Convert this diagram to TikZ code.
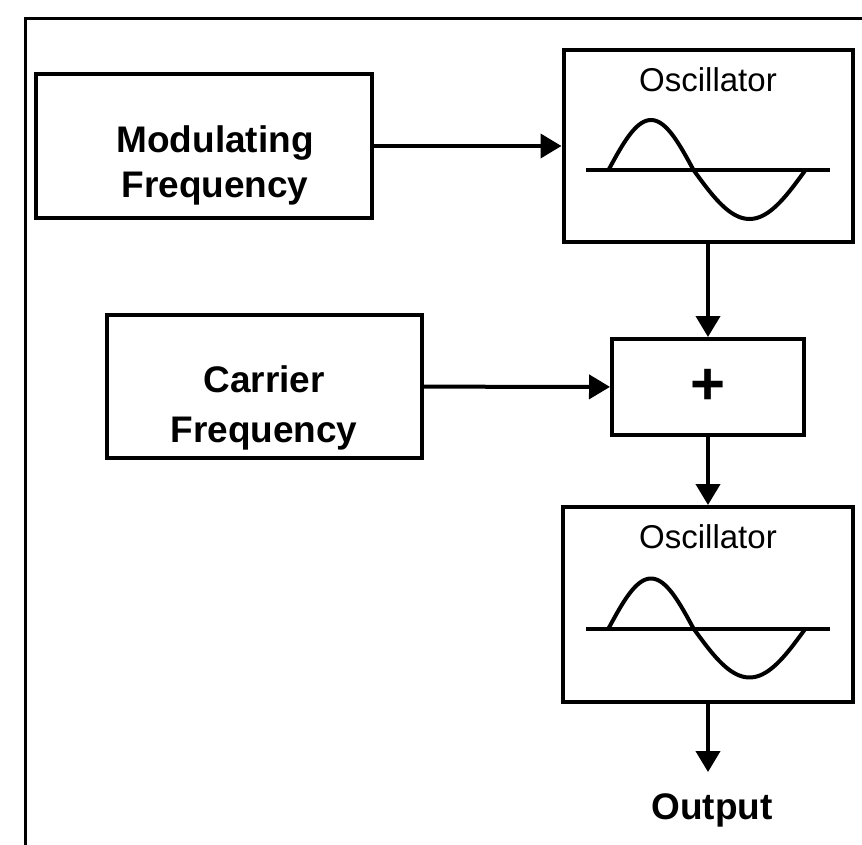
\documentclass[tikz,border=0pt]{standalone}
\usepackage{fontspec}
\setmainfont{Liberation Sans}
\usetikzlibrary{
  positioning,
  arrows.meta
}

\begin{document}
\begin{tikzpicture}[
  x=1pt, y=-1pt,
  >={Triangle[length=21pt,width=24pt]},
  box/.style={draw, line width=4pt, inner sep=0pt},
  lbl/.style={font=\fontsize{37}{45}\selectfont\bfseries, align=center, inner sep=0pt},
  ttl/.style={font=\fontsize{33}{37}\selectfont, inner sep=0pt},
  arr/.style={->, line width=4pt},
  wave/.style={line width=4pt},
]
\useasboundingbox (0,0) rectangle (862,845);

% frame (only top and left edge show)
\draw[line width=3pt] (25,845) -- (25,19) -- (862,19);

\node[box, minimum width=336pt, minimum height=144pt] (modbox) at (204,146) {};
\node[lbl] (modtxt) at (215,165) {Modulating\\Frequency};

\node[box, minimum width=289pt, minimum height=192pt] (osc1) at (708,146) {};
\node[ttl, below=19pt of osc1.north] (ttl1) {Oscillator};

\node[box, minimum width=315pt, minimum height=143pt] (carbox) at (264.5,386.5) {};
\node[lbl] (cartxt) at (264,408) {Carrier\\[5pt]Frequency};

\node[box, minimum width=192pt, minimum height=96pt,
      font=\fontsize{60}{60}\selectfont\bfseries] (plus) at (708,387) {+};

\node[box, minimum width=290pt, minimum height=195pt] (osc2) at (708,604.5) {};
\node[ttl, below=19pt of osc2.north] (ttl2) {Oscillator};

\node[lbl] (out) at (712,810) {Output};

% sine symbol in both oscillators
\foreach \o in {osc1,osc2} {
  \begin{scope}[shift={(\o.center)}]
    \draw[wave] (-122,24) -- (122,24);
    \draw[wave] plot[domain=0:180, samples=40] ({-99.5+\x/180*85}, {24-50*sin(\x)})
      -- plot[domain=0:180, samples=40] ({-14.5+\x/180*112}, {24+49*sin(\x)});
  \end{scope}
}

\draw[arr] (modbox) -- (osc1);
\draw[arr] (osc1) -- (plus);
\draw[arr] (carbox) -- (plus);
\draw[arr] (plus) -- (osc2);
\draw[arr, shorten >=21pt] (osc2.south) -- (osc2.south |- out.north);

\end{tikzpicture}
\end{document}
